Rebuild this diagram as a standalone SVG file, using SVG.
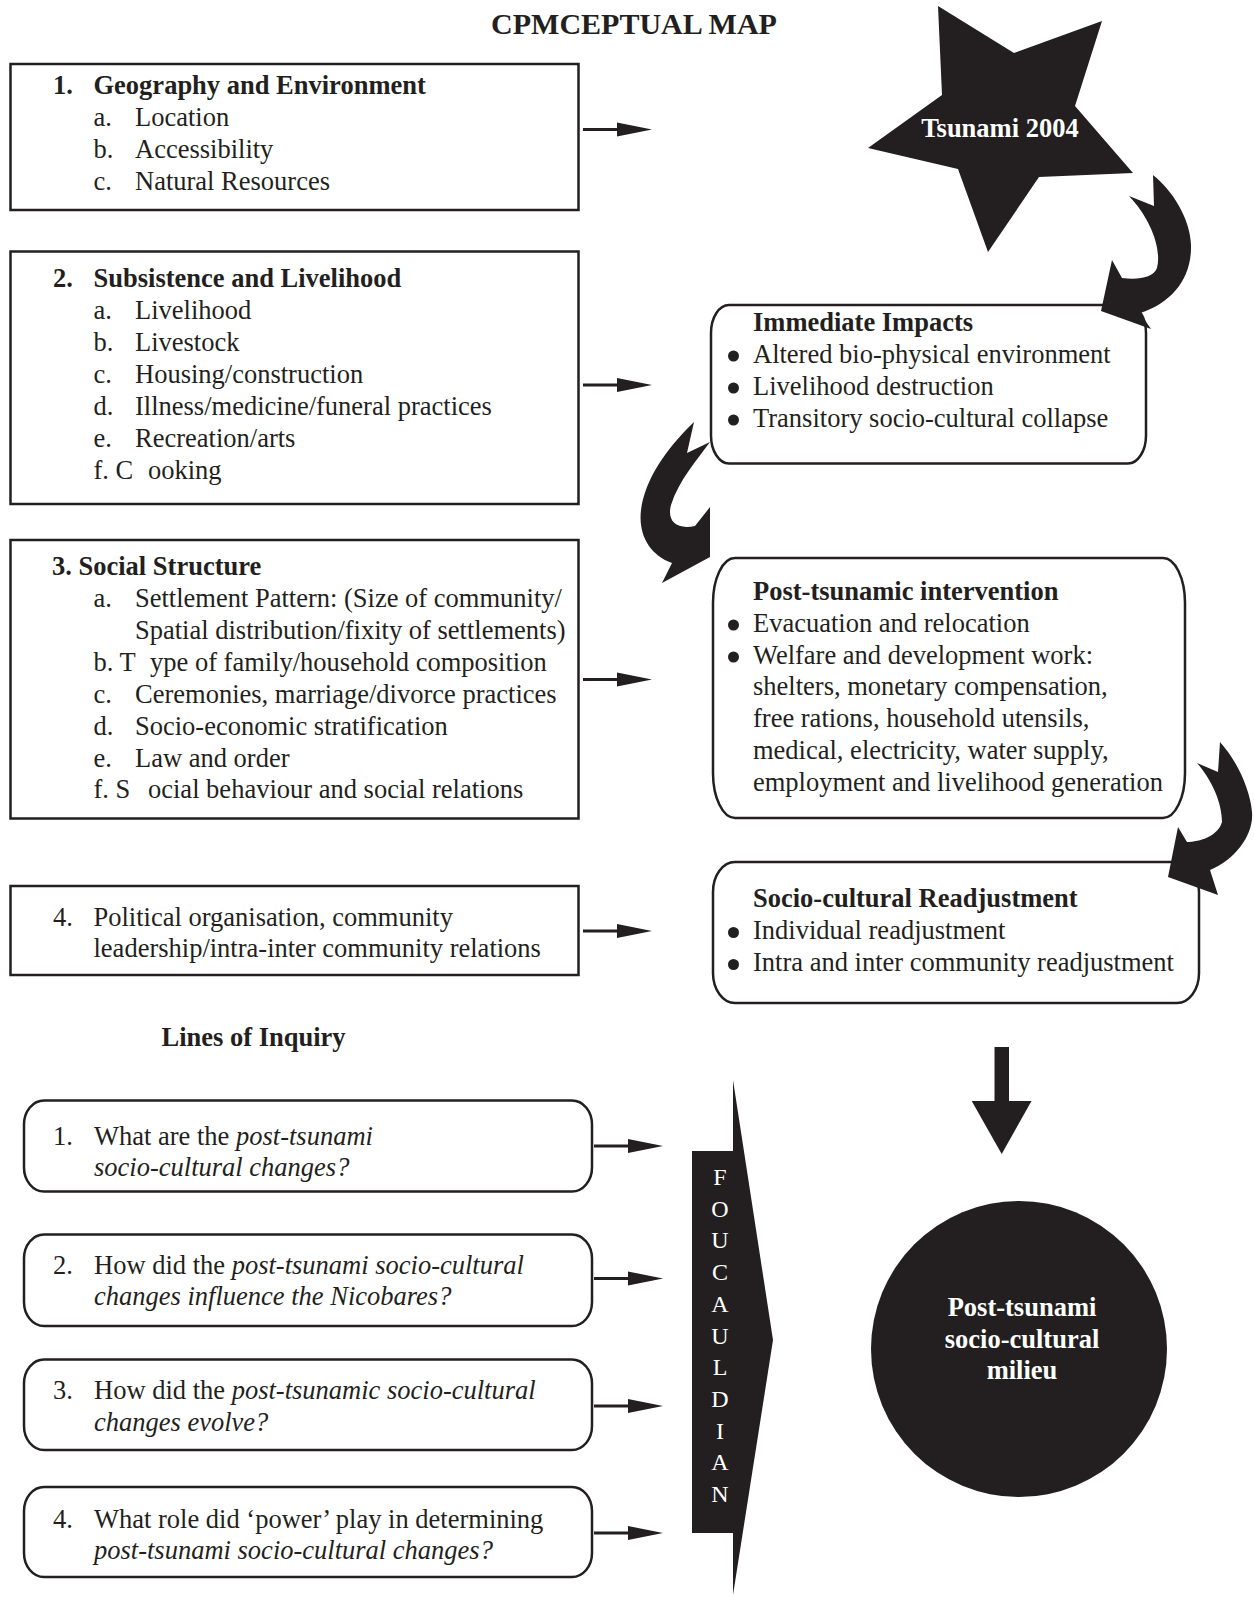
<svg xmlns="http://www.w3.org/2000/svg" width="1254" height="1597" viewBox="0 0 1254 1597">
<style>
text{font-family:"Liberation Serif","Times New Roman",serif;font-size:26.5px;fill:#231f20}
.b{font-weight:bold}
.i{font-style:italic}
.w{fill:#ffffff}
.box{fill:#ffffff;stroke:#231f20;stroke-width:2.5}
.blk{fill:#231f20}
.ln{stroke:#231f20;stroke-width:3}
.mid{text-anchor:middle}
</style>
<defs>
<g id="sarrow"><line class="ln" x1="0" y1="0" x2="38" y2="0"/><polygon class="blk" points="34,-7 69,0 34,7"/></g>
</defs>
<rect width="1254" height="1597" fill="#ffffff"/>
<text class="b mid" x="634" y="34" font-size="30" style="font-size:30px">CPMCEPTUAL MAP</text>

<g id="node-geography">
<rect class="box" x="10.5" y="64" width="568" height="146"/>
<text class="b" x="53" y="94">1.</text><text class="b" x="93.5" y="94">Geography and Environment</text>
<text x="93.5" y="126">a.</text><text x="135" y="126">Location</text>
<text x="93.5" y="158">b.</text><text x="135" y="158">Accessibility</text>
<text x="93.5" y="190">c.</text><text x="135" y="190">Natural Resources</text>
</g>

<g id="node-subsistence">
<rect class="box" x="10.5" y="251.5" width="568" height="252.5"/>
<text class="b" x="53" y="287">2.</text><text class="b" x="93.5" y="287">Subsistence and Livelihood</text>
<text x="93.5" y="319">a.</text><text x="135" y="319">Livelihood</text>
<text x="93.5" y="351">b.</text><text x="135" y="351">Livestock</text>
<text x="93.5" y="383">c.</text><text x="135" y="383">Housing/construction</text>
<text x="93.5" y="415">d.</text><text x="135" y="415">Illness/medicine/funeral practices</text>
<text x="93.5" y="447">e.</text><text x="135" y="447">Recreation/arts</text>
<text x="93.5" y="479">f. C <tspan x="148">ooking</tspan></text>
</g>

<g id="node-social">
<rect class="box" x="10.5" y="540" width="568" height="278.5"/>
<text class="b" x="52" y="575">3. Social Structure</text>
<text x="93.5" y="607">a.</text><text x="135" y="607">Settlement Pattern: (Size of community/</text>
<text x="135" y="639">Spatial distribution/fixity of settlements)</text>
<text x="93.5" y="671">b. T <tspan x="150">ype of family/household composition</tspan></text>
<text x="93.5" y="703">c.</text><text x="135" y="703">Ceremonies, marriage/divorce practices</text>
<text x="93.5" y="735">d.</text><text x="135" y="735">Socio-economic stratification</text>
<text x="93.5" y="766.5">e.</text><text x="135" y="766.5">Law and order</text>
<text x="93.5" y="798">f. S <tspan x="148">ocial behaviour and social relations</tspan></text>
</g>

<g id="node-political">
<rect class="box" x="10.5" y="886" width="568" height="89"/>
<text x="53" y="925.5">4.</text><text x="93.5" y="925.5">Political organisation, community</text>
<text x="93.5" y="957">leadership/intra-inter community relations</text>
</g>

<g id="node-tsunami">
<polygon class="blk" points="938,6 1014,53 1102,21 1075,106 1133,173 1039,177 988,252 958,169 868,148 942,95"/>
<text class="b w mid" x="1000" y="137">Tsunami 2004</text>
</g>

<g id="node-immediate">
<rect class="box" x="711" y="305" width="435" height="158.5" rx="18" ry="28"/>
<text class="b" x="753" y="331">Immediate Impacts</text>
<circle class="blk" cx="733.5" cy="356" r="5.5"/><text x="753" y="363">Altered bio-physical environment</text>
<circle class="blk" cx="733.5" cy="388" r="5.5"/><text x="753" y="395">Livelihood destruction</text>
<circle class="blk" cx="733.5" cy="420" r="5.5"/><text x="753" y="427">Transitory socio-cultural collapse</text>
</g>

<g id="node-intervention">
<rect class="box" x="713" y="558" width="472" height="260" rx="22" ry="45"/>
<text class="b" x="753" y="600">Post-tsunamic intervention</text>
<circle class="blk" cx="733.5" cy="625" r="5.5"/><text x="753" y="631.5">Evacuation and relocation</text>
<circle class="blk" cx="733.5" cy="657" r="5.5"/><text x="753" y="663.5">Welfare and development work:</text>
<text x="753" y="695">shelters, monetary compensation,</text>
<text x="753" y="727">free rations, household utensils,</text>
<text x="753" y="759">medical, electricity, water supply,</text>
<text x="753" y="790.5">employment and livelihood generation</text>
</g>

<g id="node-readjustment">
<rect class="box" x="713" y="862" width="486" height="141" rx="22" ry="30"/>
<text class="b" x="753" y="907">Socio-cultural Readjustment</text>
<circle class="blk" cx="733.5" cy="932.5" r="5.5"/><text x="753" y="939">Individual readjustment</text>
<circle class="blk" cx="733.5" cy="964.5" r="5.5"/><text x="753" y="971">Intra and inter community readjustment</text>
</g>

<g id="node-lines-title">
<text class="b mid" x="253.5" y="1046">Lines of Inquiry</text>
</g>

<g id="node-q1">
<rect class="box" x="24" y="1100.5" width="568" height="91" rx="20" ry="24"/>
<text x="53" y="1144.5">1.</text><text x="94" y="1144.5">What are the <tspan class="i">post-tsunami</tspan></text>
<text class="i" x="94" y="1176">socio-cultural changes?</text>
</g>
<g id="node-q2">
<rect class="box" x="24" y="1234.5" width="568" height="91.5" rx="20" ry="24"/>
<text x="53" y="1273.5">2.</text><text x="94" y="1273.5">How did the <tspan class="i">post-tsunami socio-cultural</tspan></text>
<text class="i" x="94" y="1305">changes influence the Nicobares?</text>
</g>
<g id="node-q3">
<rect class="box" x="24" y="1359.5" width="568" height="90.5" rx="20" ry="24"/>
<text x="53" y="1399">3.</text><text x="94" y="1399">How did the <tspan class="i">post-tsunamic socio-cultural</tspan></text>
<text class="i" x="94" y="1431">changes evolve?</text>
</g>
<g id="node-q4">
<rect class="box" x="24" y="1487" width="568" height="90" rx="20" ry="24"/>
<text x="53" y="1527.5">4.</text><text x="94" y="1527.5">What role did ‘power’ play in determining</text>
<text class="i" x="94" y="1559">post-tsunami socio-cultural changes?</text>
</g>

<g id="node-foucauldian">
<polygon class="blk" points="692,1151 733,1151 733,1080 773,1340 733,1595 733,1533 692,1533"/>
<g class="w" style="font-size:24px">
<text class="w mid" x="720" y="1185" style="font-size:24px">F</text>
<text class="w mid" x="720" y="1216.7" style="font-size:24px">O</text>
<text class="w mid" x="720" y="1248.4" style="font-size:24px">U</text>
<text class="w mid" x="720" y="1280.1" style="font-size:24px">C</text>
<text class="w mid" x="720" y="1311.8" style="font-size:24px">A</text>
<text class="w mid" x="720" y="1343.5" style="font-size:24px">U</text>
<text class="w mid" x="720" y="1375.2" style="font-size:24px">L</text>
<text class="w mid" x="720" y="1406.9" style="font-size:24px">D</text>
<text class="w mid" x="720" y="1438.6" style="font-size:24px">I</text>
<text class="w mid" x="720" y="1470.3" style="font-size:24px">A</text>
<text class="w mid" x="720" y="1502" style="font-size:24px">N</text>
</g>
</g>

<g id="node-milieu">
<circle class="blk" cx="1019" cy="1349" r="148"/>
<text class="b w mid" x="1022" y="1316">Post-tsunami</text>
<text class="b w mid" x="1022" y="1348">socio-cultural</text>
<text class="b w mid" x="1022" y="1379">milieu</text>
</g>

<g id="connectors">
<use href="#sarrow" x="583" y="129.5"/>
<use href="#sarrow" x="583" y="385"/>
<use href="#sarrow" x="583" y="679.5"/>
<use href="#sarrow" x="583" y="931"/>
<use href="#sarrow" x="594" y="1146"/>
<use href="#sarrow" x="594" y="1278.5"/>
<use href="#sarrow" x="594" y="1406"/>
<use href="#sarrow" x="594" y="1533"/>
<path class="blk" d="M1129,196 C1150,218 1162,248 1157,268 C1153,278 1138,280 1122,278 L1112,260 L1101,311 L1151,329 L1140,313 C1172,303 1192,278 1191,245 C1190,218 1172,190 1153,175 L1154,206 Z"/>
<path class="blk" d="M710,442 C697,460 679,480 671,505 C667,520 675,530 695,526 L710,507 L710,557 L662,583 L672,563 C650,555 638,535 641,510 C645,480 665,450 694,422 L687,453 Z"/>
<path class="blk" d="M1197,763 C1212,780 1222,803 1222,822 C1218,836 1200,842 1187,842 L1178,827 L1168,877 L1218,895 L1210,870 C1235,860 1254,835 1252,812 C1250,790 1238,762 1220,742 L1218,772 Z"/>
<polygon class="blk" points="994.5,1047 1009,1047 1009,1101 1031.5,1101 1001.7,1154 971.7,1101 994.5,1101"/>
</g>
</svg>
